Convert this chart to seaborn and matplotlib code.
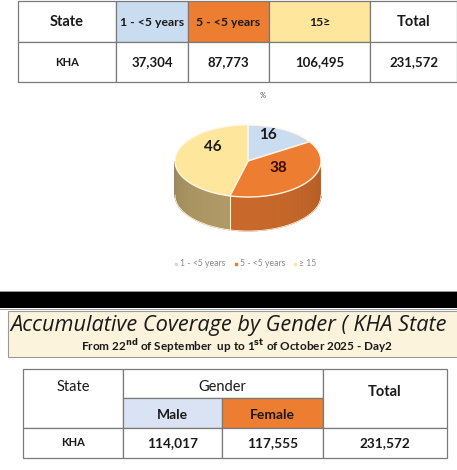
import numpy as np
import matplotlib
matplotlib.use("Agg")
import matplotlib.pyplot as plt
from matplotlib.patches import Rectangle, Polygon
import seaborn as sns

# ------------------------------
# data
# ------------------------------
state = "KHA"
age_groups = ["1 - <5 years", "5 - <5 years", "15≥"]
age_counts = [37304, 87773, 106495]
age_total = 231572
pie_pct = [16, 38, 46]
legend_labels = ["1 - <5 years", "5 - <5 years", "≥ 15"]
genders = ["Male", "Female"]
gender_counts = [114017, 117555]
gender_total = 231572

# the banner is cropped on the right in the source picture
title = "Accumulative Coverage by Gender ( KHA State"

# colours
blue = "#c9dcf0"
orange = "#ed7d31"
yellow = "#fee69c"
side_cols = ["#8fa6bd", "#c8682a", "#b09a66"]
line = "#7a7a7a"

sns.set_theme(style="white")
plt.rcParams["font.family"] = ["Lato", "DejaVu Sans"]

fig = plt.figure(figsize=(4.57, 4.70), dpi=100)
ax = fig.add_axes([0, 0, 1, 1])
ax.set_xlim(0, 457)
ax.set_ylim(470, 0)
ax.axis("off")


def cell(x0, x1, y0, y1, fc="white"):
    ax.add_patch(Rectangle((x0, y0), x1 - x0, y1 - y0, facecolor=fc,
                           edgecolor=line, lw=0.9, zorder=1))


def txt(x, y, s, size=9, weight="bold", color="#1a1a1a", z=6, **kw):
    ax.text(x, y, s, ha="center", va="center", fontsize=size,
            fontweight=weight, color=color, zorder=z, **kw)


# ------------------------------
# 1. top table (age groups)
# ------------------------------
cols = [18, 116, 188, 269, 370, 457]
rows = [1, 42, 82]
head_fill = ["white", blue, orange, yellow, "white"]
head_txt = ["State"] + age_groups + ["Total"]
body_txt = [state] + [f"{v:,}" for v in age_counts] + [f"{age_total:,}"]
for i in range(5):
    cell(cols[i], cols[i + 1], rows[0], rows[1], head_fill[i])
    cell(cols[i], cols[i + 1], rows[1], rows[2])
    cx = (cols[i] + cols[i + 1]) / 2
    hs = 10.5 if i in (0, 4) else 8.8
    txt(cx, (rows[0] + rows[1]) / 2 + 1, head_txt[i], size=hs)
    txt(cx, (rows[1] + rows[2]) / 2, body_txt[i], size=8 if i == 0 else 9.5)

# ------------------------------
# 2. 3D-looking pie chart
# ------------------------------
txt(263, 96, "%", size=5.5, weight="normal", color="#555555")
pcx, pcy, rx, ry, depth = 248, 161, 73, 36, 34
bounds = np.concatenate([[0], np.cumsum(pie_pct)]) / sum(pie_pct) * 2 * np.pi
top_cols = [blue, orange, yellow]

# side walls, only the front half is visible
for k in range(len(pie_pct)):
    a0, a1 = bounds[k], bounds[k + 1]
    lo, hi = max(a0, np.pi / 2), min(a1, 3 * np.pi / 2)
    if hi <= lo:
        continue
    t = np.linspace(lo, hi, 40)
    for j in range(len(t) - 1):
        xs = pcx + rx * np.sin(t[j:j + 2])
        ys = pcy - ry * np.cos(t[j:j + 2])
        shade = 0.88 + 0.12 * np.cos(t[j] - np.pi)
        c = np.clip(np.array(matplotlib.colors.to_rgb(side_cols[k])) * shade, 0, 1)
        ax.add_patch(Polygon([[xs[0], ys[0]], [xs[1], ys[1]],
                              [xs[1], ys[1] + depth], [xs[0], ys[0] + depth]],
                             closed=True, facecolor=c, edgecolor=c,
                             lw=0.7, zorder=2))
    ax.plot([pcx + rx * np.sin(lo), pcx + rx * np.sin(lo)],
            [pcy - ry * np.cos(lo), pcy - ry * np.cos(lo) + depth],
            color="#fff3dc", lw=0.8, zorder=3)
tt = np.linspace(np.pi / 2, 3 * np.pi / 2, 100)
ax.plot(pcx + rx * np.sin(tt), pcy - ry * np.cos(tt) + depth,
        color="#fff3dc", lw=0.6, zorder=3)

# top faces
for k in range(len(pie_pct)):
    t = np.linspace(bounds[k], bounds[k + 1], 80)
    pts = np.column_stack([pcx + rx * np.sin(t), pcy - ry * np.cos(t)])
    pts = np.vstack([[pcx, pcy], pts])
    ax.add_patch(Polygon(pts, closed=True, facecolor=top_cols[k],
                         edgecolor="#fff6e6", lw=1.0, zorder=4))

label_pos = [(268, 135), (278, 168), (213, 147)]
label_cols = ["#1a1a1a", "#3a0d00", "#1a1a1a"]
for k, (lx, ly) in enumerate(label_pos):
    txt(lx, ly, str(pie_pct[k]), size=11, color=label_cols[k])

# legend
leg_x = [176, 236, 295]
for k in range(3):
    ax.scatter([leg_x[k]], [264], marker="s", s=4, color=top_cols[k], zorder=5)
    ax.text(leg_x[k] + 4, 264, legend_labels[k], ha="left", va="center",
            fontsize=6.2, color="#8a8a8a")

# ------------------------------
# 3. black band + title banner
# ------------------------------
ax.add_patch(Rectangle((0, 291), 457, 1, facecolor="#9a9a9a", lw=0, zorder=1))
ax.add_patch(Rectangle((0, 292), 457, 15.5, facecolor="black", lw=0, zorder=1))
ax.add_patch(Rectangle((0, 309), 457, 1, facecolor="#9a9a9a", lw=0, zorder=1))
ax.add_patch(Rectangle((8, 311), 460, 46, facecolor="#fcf3dc",
                       edgecolor="#9a9a9a", lw=0.8, zorder=1))
ax.text(10, 325, title, ha="left", va="center", fontsize=15.7,
        fontstyle="italic", color="#1a1a1a", family=["Open Sans", "DejaVu Sans"],
        zorder=2)
ax.text(237, 346,
        r"From 22$^{\mathbf{nd}}$ of September  up to 1$^{\mathbf{st}}$ of October 2025 - Day2",
        ha="center", va="center", fontsize=8.5, fontweight="bold",
        color="#1a1a1a", zorder=2)

# ------------------------------
# 4. bottom table (gender)
# ------------------------------
bc = [23, 123, 222, 323, 447]
br = [369, 398, 428, 458]
cell(bc[0], bc[1], br[0], br[2])
cell(bc[1], bc[3], br[0], br[1])
cell(bc[1], bc[2], br[1], br[2], "#dae3f3")
cell(bc[2], bc[3], br[1], br[2], orange)
cell(bc[3], bc[4], br[0], br[2])
for i in range(4):
    cell(bc[i], bc[i + 1], br[2], br[3])

txt(73, 387, "State", size=10.5, weight="normal")
txt(222, 387, "Gender", size=10.5, weight="normal")
txt(385, 392, "Total", size=10.5)
txt(172, 415, genders[0], size=10)
txt(272, 415, genders[1], size=10)
body2 = [state] + [f"{v:,}" for v in gender_counts] + [f"{gender_total:,}"]
for i in range(4):
    txt((bc[i] + bc[i + 1]) / 2, 443, body2[i], size=8 if i == 0 else 9.8)

fig.savefig("out.png", dpi=100)
